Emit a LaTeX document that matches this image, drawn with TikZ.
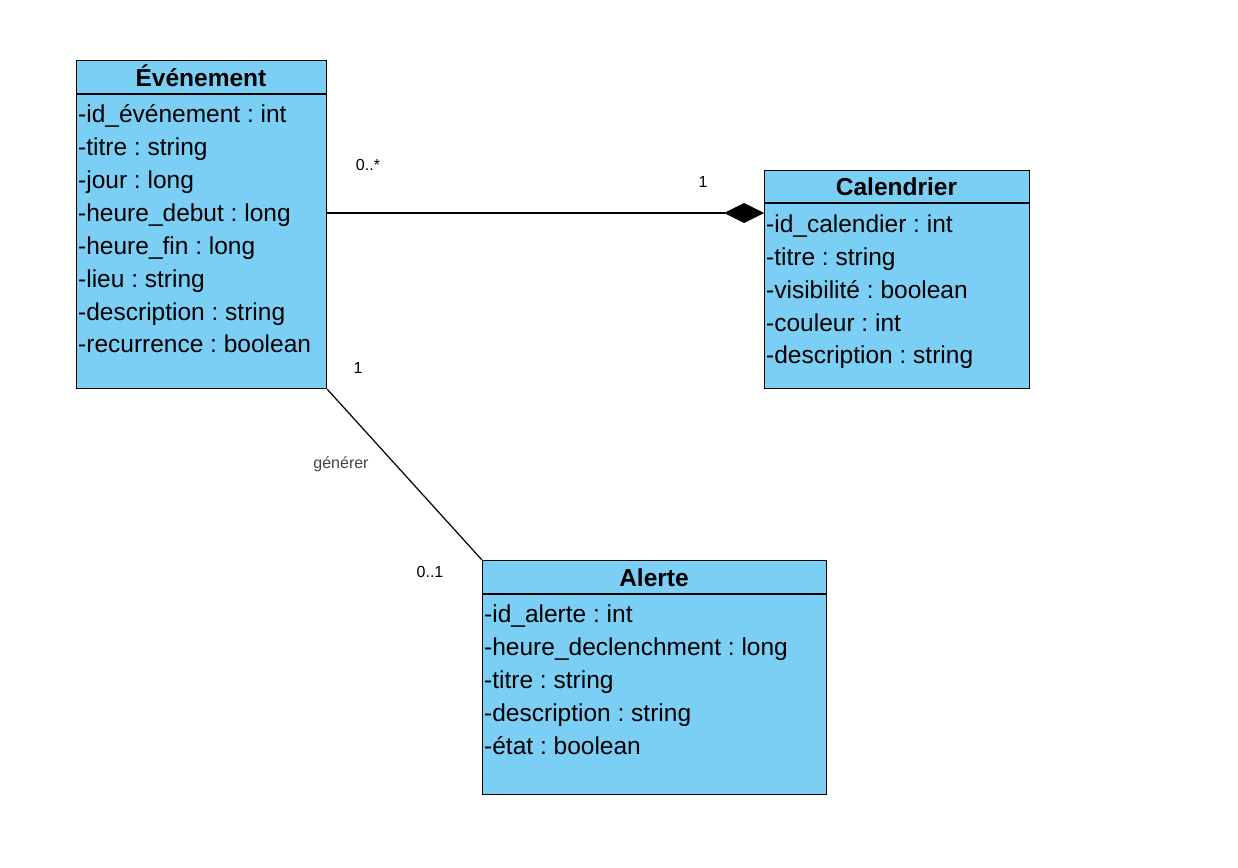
\documentclass[tikz,border=0pt]{standalone}
\usepackage{fontspec}
\setmainfont{Liberation Sans}
\frenchspacing
\usetikzlibrary{arrows.meta}
\definecolor{classfill}{HTML}{7BCFF4}
\definecolor{lblgray}{HTML}{444444}
\tikzset{
  classbox/.style={draw=black, line width=1.2pt, fill=classfill, anchor=north west, inner sep=0pt},
  headtxt/.style={font=\fontsize{24.5}{30}\selectfont\bfseries, anchor=base, inner sep=0pt},
  attr/.style={font=\fontsize{24.5}{30}\selectfont, anchor=base west, inner sep=0pt},
  mult/.style={font=\fontsize{16}{20}\selectfont, anchor=center, inner sep=0pt},
  assoc/.style={draw=black, line width=1.2pt},
}
\begin{document}
\begin{tikzpicture}[x=1pt,y=-1pt]
\useasboundingbox (0,0) rectangle (1238,867);
% Evenement
\node[classbox, minimum width=250pt, minimum height=328pt] (ev) at (76,60) {};
\draw[line width=1.2pt] (76,94) -- (326,94);
\node[headtxt] (evh) at (201,86) {Événement};
\node[attr] (ev1) at (78,122) {-id\_événement : int};
\node[attr] (ev2) at (78,155) {-titre : string};
\node[attr] (ev3) at (78,188) {-jour : long};
\node[attr] (ev4) at (78,221) {-heure\_debut : long};
\node[attr] (ev5) at (78,254) {-heure\_fin : long};
\node[attr] (ev6) at (78,287) {-lieu : string};
\node[attr] (ev7) at (78,320) {-description : string};
\node[attr] (ev8) at (78,352) {-recurrence : boolean};
% Calendrier
\node[classbox, minimum width=265pt, minimum height=218pt] (cal) at (764,170) {};
\draw[line width=1.2pt] (764,203) -- (1029,203);
\node[headtxt] (calh) at (896.5,195) {Calendrier};
\node[attr] (cal1) at (766,232) {-id\_calendier : int};
\node[attr] (cal2) at (766,265) {-titre : string};
\node[attr] (cal3) at (766,298) {-visibilité : boolean};
\node[attr] (cal4) at (766,331) {-couleur : int};
\node[attr] (cal5) at (766,363) {-description : string};
% Alerte
\node[classbox, minimum width=344pt, minimum height=234pt] (al) at (482,560) {};
\draw[line width=1.2pt] (482,594) -- (826,594);
\node[headtxt] (alh) at (654,586) {Alerte};
\node[attr] (al1) at (484,622) {-id\_alerte : int};
\node[attr] (al2) at (484,655) {-heure\_declenchment : long};
\node[attr] (al3) at (484,688) {-titre : string};
\node[attr] (al4) at (484,721) {-description : string};
\node[attr] (al5) at (484,754) {-état : boolean};
% connectors
\coordinate (evR) at (326,213);
\coordinate (calL) at (764,213);
\draw[assoc, -{Diamond[fill=black, length=40pt, width=20pt]}] (evR) -- (calL);
\draw[assoc] (ev.south east) -- (al.north west);
% labels
\node[mult] (m1) at (368,165) {0..*};
\node[mult] (m2) at (703,182) {1};
\node[mult] (m3) at (358,368) {1};
\node[mult, text=lblgray] (gen) at (341,464) {générer};
\node[mult] (m4) at (430,572) {0..1};
\end{tikzpicture}
\end{document}
